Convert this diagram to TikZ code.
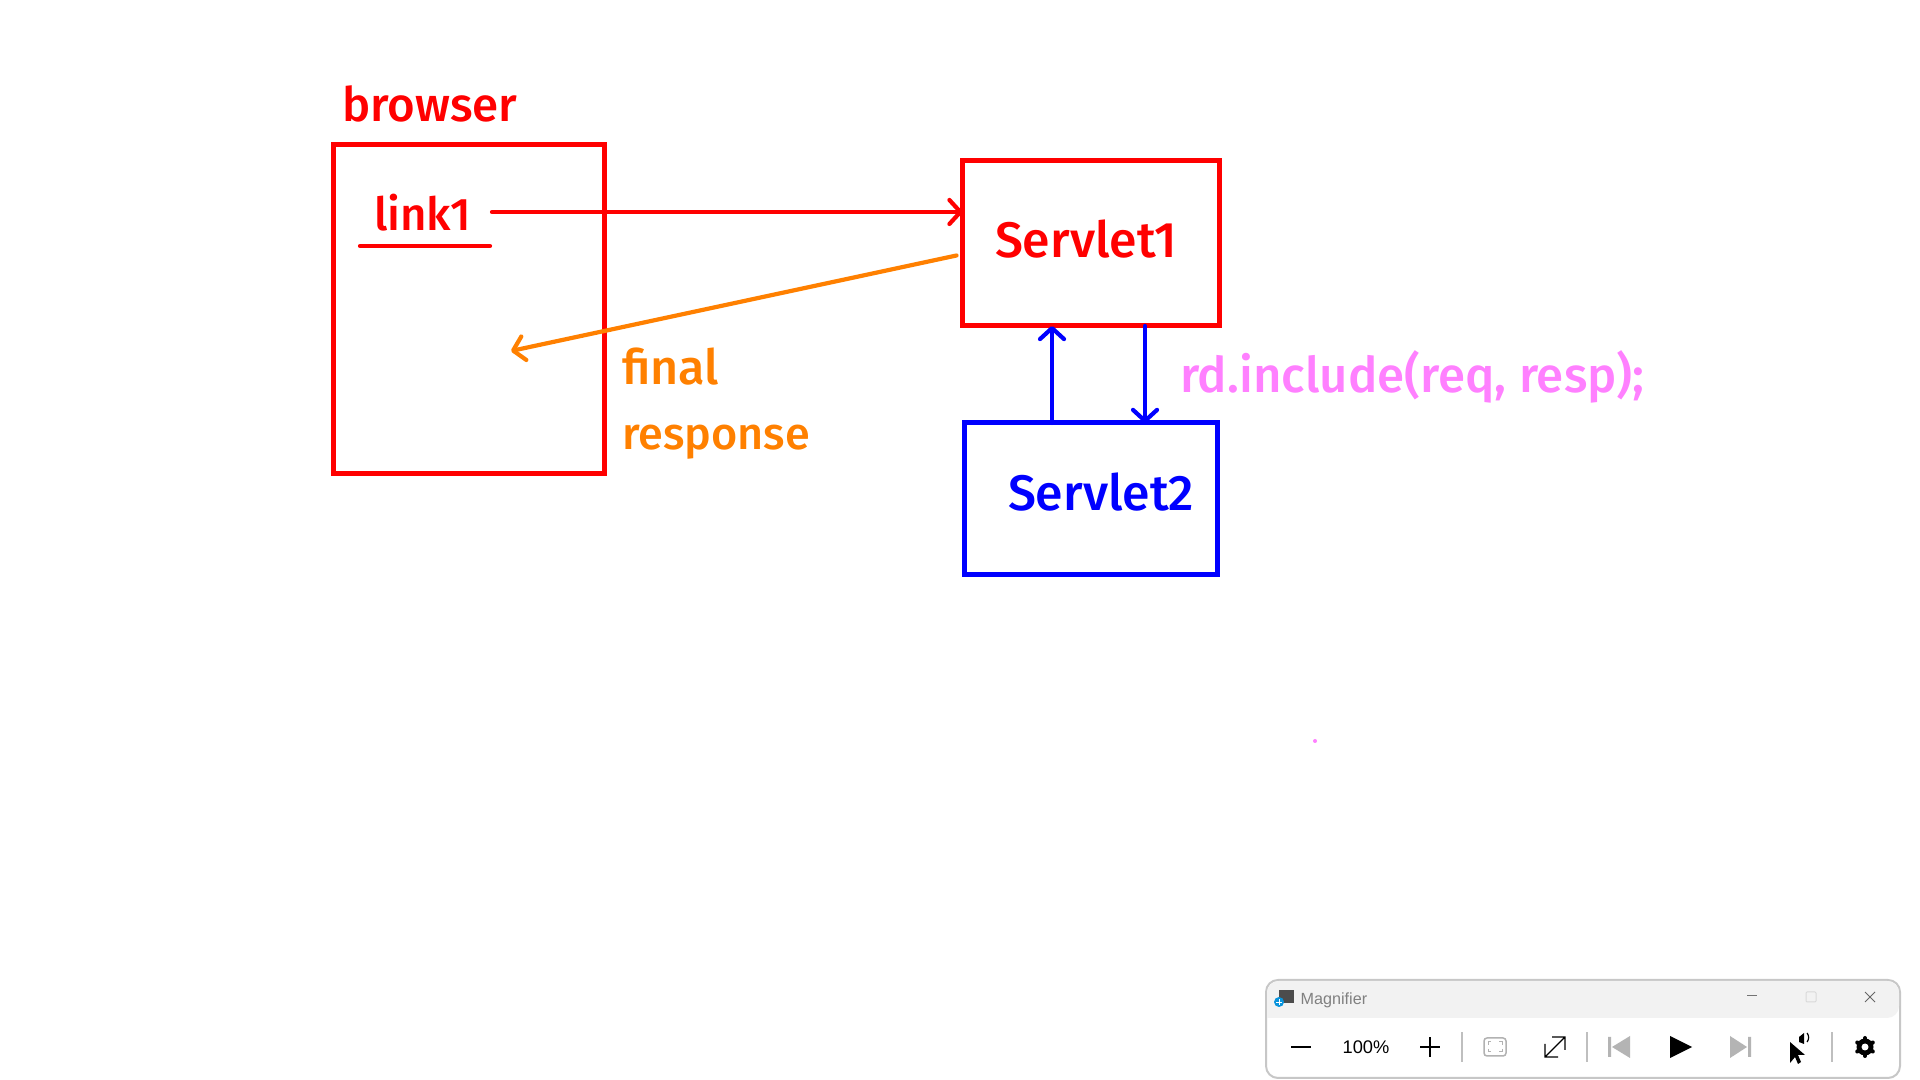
\documentclass[tikz,border=0pt]{standalone}
\usepackage{fontspec}
\setmainfont{Fira Sans}[BoldFont={Fira Sans Medium}]
\newfontfamily\uifont{Liberation Sans}
\usetikzlibrary{positioning,arrows.meta}
\definecolor{reqred}{HTML}{FF0000}
\definecolor{respor}{HTML}{FF8000}
\definecolor{incblue}{HTML}{0000FF}
\definecolor{incpink}{HTML}{FF80FF}
\definecolor{barfill}{HTML}{F2F2F2}
\definecolor{iconoff}{HTML}{B4B4B4}
\tikzset{
  redbox/.style={draw=reqred, line width=0.5mm, outer sep=0pt, inner sep=0pt},
  bluebox/.style={draw=incblue, line width=0.5mm, outer sep=0pt, inner sep=0pt},
  hand/.style={font=\fontsize{13.5}{16}\selectfont\bfseries, anchor=base west, inner sep=0pt, outer sep=0pt},
  conn/.style={line width=0.42mm, line cap=round, -{Straight Barb[length=1.1mm,width=2.4mm,round]}},
  uitext/.style={font=\uifont\fontsize{4.6}{6}\selectfont, inner sep=0pt},
  >=Stealth,
}
\begin{document}
\begin{tikzpicture}
\useasboundingbox (0,0) rectangle (19.2,10.8);
\node[redbox, minimum width=27.1mm, minimum height=32.9mm] (browser) at (4.69,7.705) {};
\node[redbox, right=35.8mm of browser.east, anchor=west, yshift=6.6mm, minimum width=25.7mm, minimum height=16.5mm] (servlet1) {};
\node[bluebox, below=9.7mm of servlet1, minimum width=25.3mm, minimum height=15.2mm] (servlet2) {};

\node[hand, text=reqred] (browserlbl) at (3.42,9.58) {browser};
\node[hand, text=reqred, font=\fontsize{13}{16}\selectfont\bfseries] (link1) at (3.74,8.49) {link1};
\node[hand, text=reqred, font=\fontsize{14.2}{16}\selectfont\bfseries] (s1lbl) at (9.95,8.22) {Servlet1};
\node[hand, text=incblue, font=\fontsize{14.2}{16}\selectfont\bfseries] (s2lbl) at (10.08,5.69) {Servlet2};
\node[hand, text=respor, font=\fontsize{13.8}{16}\selectfont\bfseries] (finallbl) at (6.22,6.95) {final};
\node[hand, text=respor, font=\fontsize{12.8}{16}\selectfont\bfseries] (resplbl) at (6.22,6.30) {response};
\node[hand, text=incpink, font=\fontsize{14}{16}\selectfont\bfseries] (rdlbl) at (11.8,6.87) {rd.include(req, resp);};

\coordinate (linkstart) at (4.92,8.68);
\coordinate (ulstart) at (3.60,8.34);
\coordinate (ulend) at (4.90,8.34);
\coordinate (finalend) at (5.11,7.29);
\coordinate[shift={(-0.06,-0.12)}] (finalstart) at (servlet1.west);
\coordinate (dot) at (13.15,3.39);

\draw[conn, reqred] (linkstart) -- (linkstart -| servlet1.west);
\draw[reqred, line width=0.42mm, line cap=round] (ulstart) -- (ulend);
\draw[conn, respor] (finalstart) -- (finalend);
\draw[conn, incblue] ([xshift=-3.9mm]servlet2.north) -- ([xshift=-3.9mm]servlet1.south);
\draw[conn, incblue] ([xshift=5.4mm]servlet1.south) -- ([xshift=5.4mm]servlet2.north);
\fill[incpink] (dot) circle (0.02);

% magnifier window
\node[draw=black!22, line width=0.2mm, rounded corners=1.2mm, minimum width=63.4mm, minimum height=9.8mm, inner sep=0pt, outer sep=0pt, fill=white] (win) at (15.83,0.51) {};
\fill[barfill, rounded corners=1.2mm] ([shift={(0.01,-0.01)}]win.north west) -- ([shift={(-0.01,-0.01)}]win.north east) -- ++(0,-0.37) [sharp corners] -- ([shift={(0.01,-0.38)}]win.north west) [rounded corners=1.2mm] -- cycle;
\fill[black!70] (12.79,0.77) rectangle (12.94,0.90);
\fill[cyan!80!blue] (12.79,0.78) circle (0.05);
\draw[white, line width=0.07mm] (12.76,0.78) -- (12.82,0.78) (12.79,0.75) -- (12.79,0.81);
\node[uitext, text=black!50, anchor=west] (wintitle) at (13.00,0.80) {Magnifier};
\draw[black!55, line width=0.1mm] (17.47,0.84) -- (17.57,0.84);
\draw[black!15, line width=0.1mm, rounded corners=0.1mm] (18.06,0.78) rectangle (18.16,0.88);
\draw[black!60, line width=0.1mm] (18.65,0.78) -- (18.75,0.88) (18.65,0.88) -- (18.75,0.78);
% toolbar
\draw[black, line width=0.25mm] (12.91,0.33) -- (13.11,0.33);
\node[uitext, text=black, font=\uifont\fontsize{5.2}{7}\selectfont] (zoomlbl) at (13.66,0.33) {100\%};
\draw[black, line width=0.25mm] (14.20,0.33) -- (14.40,0.33) (14.30,0.23) -- (14.30,0.43);
\foreach \sepx in {14.62,15.87,18.32}
  \draw[black!25, line width=0.15mm] (\sepx,0.18) -- (\sepx,0.48);
\draw[black!30, line width=0.15mm, rounded corners=0.3mm] (14.84,0.24) rectangle (15.06,0.42);
\draw[black!30, line width=0.1mm] (14.88,0.31) -- (14.88,0.28) -- (14.91,0.28) (15.02,0.31) -- (15.02,0.28) -- (14.99,0.28) (14.88,0.35) -- (14.88,0.38) -- (14.91,0.38) (15.02,0.35) -- (15.02,0.38) -- (14.99,0.38);
\draw[black, line width=0.12mm] (15.45,0.23) -- (15.65,0.43) (15.52,0.43) -- (15.65,0.43) -- (15.65,0.30) (15.45,0.36) -- (15.45,0.23) -- (15.58,0.23);
\fill[iconoff] (16.08,0.23) rectangle (16.11,0.43) (16.12,0.33) -- (16.30,0.44) -- (16.30,0.22) -- cycle;
\fill[black] (16.70,0.22) -- (16.70,0.44) -- (16.92,0.33) -- cycle;
\fill[iconoff] (17.30,0.22) -- (17.30,0.44) -- (17.47,0.33) -- cycle (17.48,0.23) rectangle (17.51,0.43);
\fill[black] (17.90,0.38) -- (17.90,0.17) -- (17.95,0.23) -- (17.98,0.16) -- (18.01,0.18) -- (17.98,0.25) -- (18.05,0.25) -- cycle;
\fill[black] (17.99,0.38) -- (18.04,0.36) -- (18.04,0.47) -- (17.99,0.43) -- cycle;
\draw[black, line width=0.12mm] (18.07,0.38) arc (-40:40:0.07);
% gear
\coordinate (gearc) at (18.65,0.33);
\foreach \ang in {30,90,...,330}
  \draw[black, line width=0.4mm, line cap=round] (gearc) -- ++(\ang:0.09);
\fill[black] (gearc) circle (0.085);
\fill[white] (gearc) circle (0.035);
\end{tikzpicture}
\end{document}
